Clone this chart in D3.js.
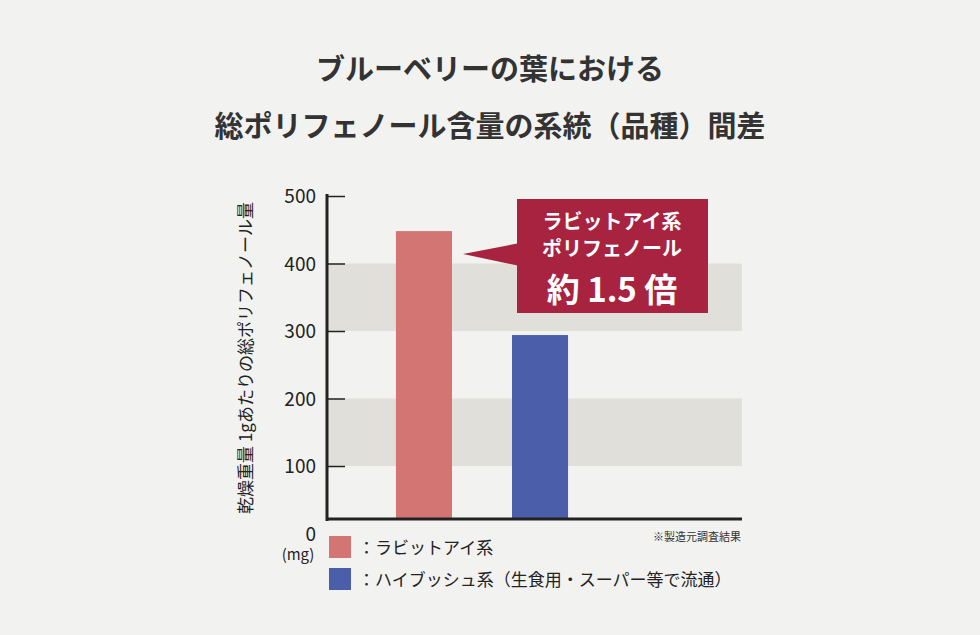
<!DOCTYPE html><html><head><meta charset="utf-8">
<script src="https://cdn.jsdelivr.net/npm/d3@7"></script>
<style>body{margin:0;background:#f2f2f1}svg{display:block}text{font-family:"Noto Sans CJK JP",sans-serif}</style></head><body>
<script>
const categories=["ラビットアイ系","ハイブッシュ系"];
const values=[448,294];
const colors=["#d27573","#4b5eaa"];
const ticks=[0,100,200,300,400,500];
const bands=[[100,200],[300,400]];
const legendLabels=["：ラビットアイ系","：ハイブッシュ系（生食用・スーパー等で流通）"];
const titleLines=["ブルーベリーの葉における","総ポリフェノール含量の系統（品種）間差"];

const svg=d3.select("body").append("svg").attr("width",980).attr("height",635);
svg.append("rect").attr("width",980).attr("height",635).attr("fill","#f2f2f1");
svg.selectAll(".t").data(titleLines).join("text").attr("x",490).attr("y",(d,i)=>80+i*57)
 .attr("text-anchor","middle").attr("font-size",29).attr("font-weight",700).attr("fill","#333").text(d=>d);
const y=d3.scaleLinear().domain([0,500]).range([533.5,196]);
const x=d3.scaleBand().domain(categories).range([337,627]).paddingInner(0.517).paddingOuter(0.508);
const x0=327,x1=742,base=519;
svg.selectAll(".band").data(bands).join("rect").attr("x",x0).attr("width",x1-x0)
 .attr("y",d=>y(d[1])).attr("height",d=>y(d[0])-y(d[1])).attr("fill","#e0dfda");
svg.selectAll(".bar").data(values).join("rect").attr("x",(d,i)=>x(categories[i])).attr("width",x.bandwidth())
 .attr("y",d=>y(d)).attr("height",d=>base-y(d)).attr("fill",(d,i)=>colors[i]);
const ax=svg.append("g").attr("transform",`translate(${x0},0)`).call(d3.axisRight(y).tickValues(ticks.slice(1)).tickSize(18).tickFormat(""));
ax.select(".domain").remove();ax.selectAll("line").attr("stroke","#222").attr("stroke-width",1.5);
svg.selectAll(".tl").data(ticks).join("text").attr("x",316).attr("y",d=>y(d)+7).attr("text-anchor","end")
 .attr("font-size",19).attr("fill","#222").attr("font-family","Liberation Sans, Arial").text(d=>d);
svg.append("line").attr("x1",x0).attr("x2",x0).attr("y1",y(500)-2).attr("y2",base+2).attr("stroke","#222").attr("stroke-width",3);
svg.append("line").attr("x1",x0-1).attr("x2",x1).attr("y1",base).attr("y2",base).attr("stroke","#222").attr("stroke-width",3);
svg.append("text").attr("x",298).attr("y",560).attr("text-anchor","middle").attr("font-size",15).attr("fill","#222").text("(mg)");
svg.append("text").attr("transform","translate(252,358) rotate(-90)").attr("text-anchor","middle").attr("font-size",17).attr("fill","#222").text("乾燥重量 1gあたりの総ポリフェノール量");
svg.append("text").attr("x",741).attr("y",541).attr("text-anchor","end").attr("font-size",11).attr("fill","#333").text("※製造元調査結果");
legendLabels.forEach((l,i)=>{const yy=536+i*32;
 svg.append("rect").attr("x",329).attr("y",yy).attr("width",22).attr("height",22).attr("fill",colors[i]);
 svg.append("text").attr("x",358).attr("y",yy+18).attr("font-size",17).attr("fill","#222").text(l);});
const c="#a8233f";
svg.append("path").attr("d","M520,243 L463,254 L520,266 Z").attr("fill",c);
svg.append("rect").attr("x",517).attr("y",199).attr("width",191).attr("height",114).attr("fill",c);
svg.append("text").attr("x",612).attr("y",229).attr("text-anchor","middle").attr("font-size",20).attr("font-weight",700).attr("fill","#fff").text("ラビットアイ系");
svg.append("text").attr("x",612).attr("y",256).attr("text-anchor","middle").attr("font-size",20).attr("font-weight",700).attr("fill","#fff").text("ポリフェノール");
svg.append("text").attr("x",612).attr("y",302).attr("text-anchor","middle").attr("font-size",33).attr("font-weight",700).attr("fill","#fff").text("約 1.5 倍");
</script></body></html>
